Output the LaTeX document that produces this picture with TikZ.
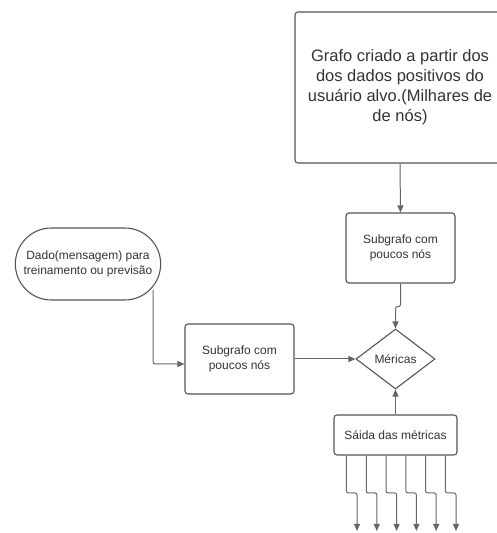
\documentclass[tikz,border=0pt]{standalone}
\usepackage{fontspec}
\setmainfont{Liberation Sans}
\usetikzlibrary{positioning,arrows.meta,shapes.geometric,shapes.misc,calc}
\definecolor{linha}{HTML}{666666}
\definecolor{borda}{HTML}{555555}
\definecolor{texto}{HTML}{333333}

\begin{document}
\begin{tikzpicture}[x=1pt, y=1pt,
    block/.style={draw=borda, line width=1.1pt, rectangle, rounded corners=3pt, align=center, text=texto, font=\fontsize{12}{15}\selectfont, inner sep=2pt},
    term/.style={draw=borda, line width=1.1pt, rounded rectangle, align=center, text=texto, font=\fontsize{12}{15}\selectfont, minimum width=152pt, minimum height=72pt},
    decisao/.style={draw=borda, line width=1.1pt, diamond, aspect=1.3, inner sep=1pt, text=texto, font=\fontsize{12}{15}\selectfont, minimum width=79pt, minimum height=60pt},
    arrow/.style={-{Triangle[length=7pt,width=6pt]}, draw=linha, line width=1pt, rounded corners=2pt}
]
\useasboundingbox (0,0) rectangle (497,533);

% --- Grafo do usuario alvo e subgrafo ---
\node[block, minimum width=210pt, minimum height=151pt, font=\fontsize{16.5}{20}\selectfont] (grafo) at (400,445.5) {Grafo criado a partir dos\\dos dados positivos do\\usuário alvo.(Milhares de\\de nós)};
\node[block, minimum width=109pt, minimum height=70pt] (subA) at (400.5,285) {Subgrafo com\\poucos nós};

% --- Dado de entrada e seu subgrafo ---
\node[term] (dado) at (88,269) {Dado(mensagem) para\\treinamento ou previsão};
\node[block, minimum width=109pt, minimum height=70pt] (subB) at (239.5,174) {Subgrafo com\\poucos nós};

% --- Metricas e saida ---
\node[decisao] (merica) at (395.5,174) {Méricas};
\node[block, minimum width=123pt, minimum height=40pt] (saida) at (395.5,98) {Sáida das métricas};

% --- Conexoes ---
\draw[arrow] (grafo.south) -- (subA.north);
\draw[arrow] (subA.south) -- ++(0,-23) -| (merica.north);
\draw[arrow] ($(dado.center)+(65,-26)$) |- ($(subB.west)+(0,-5)$);
\draw[arrow] (subB.east) -- (merica.west);
\draw[arrow] (saida.north) -- (merica.south);

% --- Saidas das metricas ---
\foreach \i in {0,...,5} {
  \coordinate (fim\i) at (357+19.8*\i,2);
  \draw[arrow] ($(saida.south west)+(13+19.8*\i,0)$) |- ($(fim\i)+(-5,38)$) -| (fim\i);
}

\end{tikzpicture}
\end{document}
